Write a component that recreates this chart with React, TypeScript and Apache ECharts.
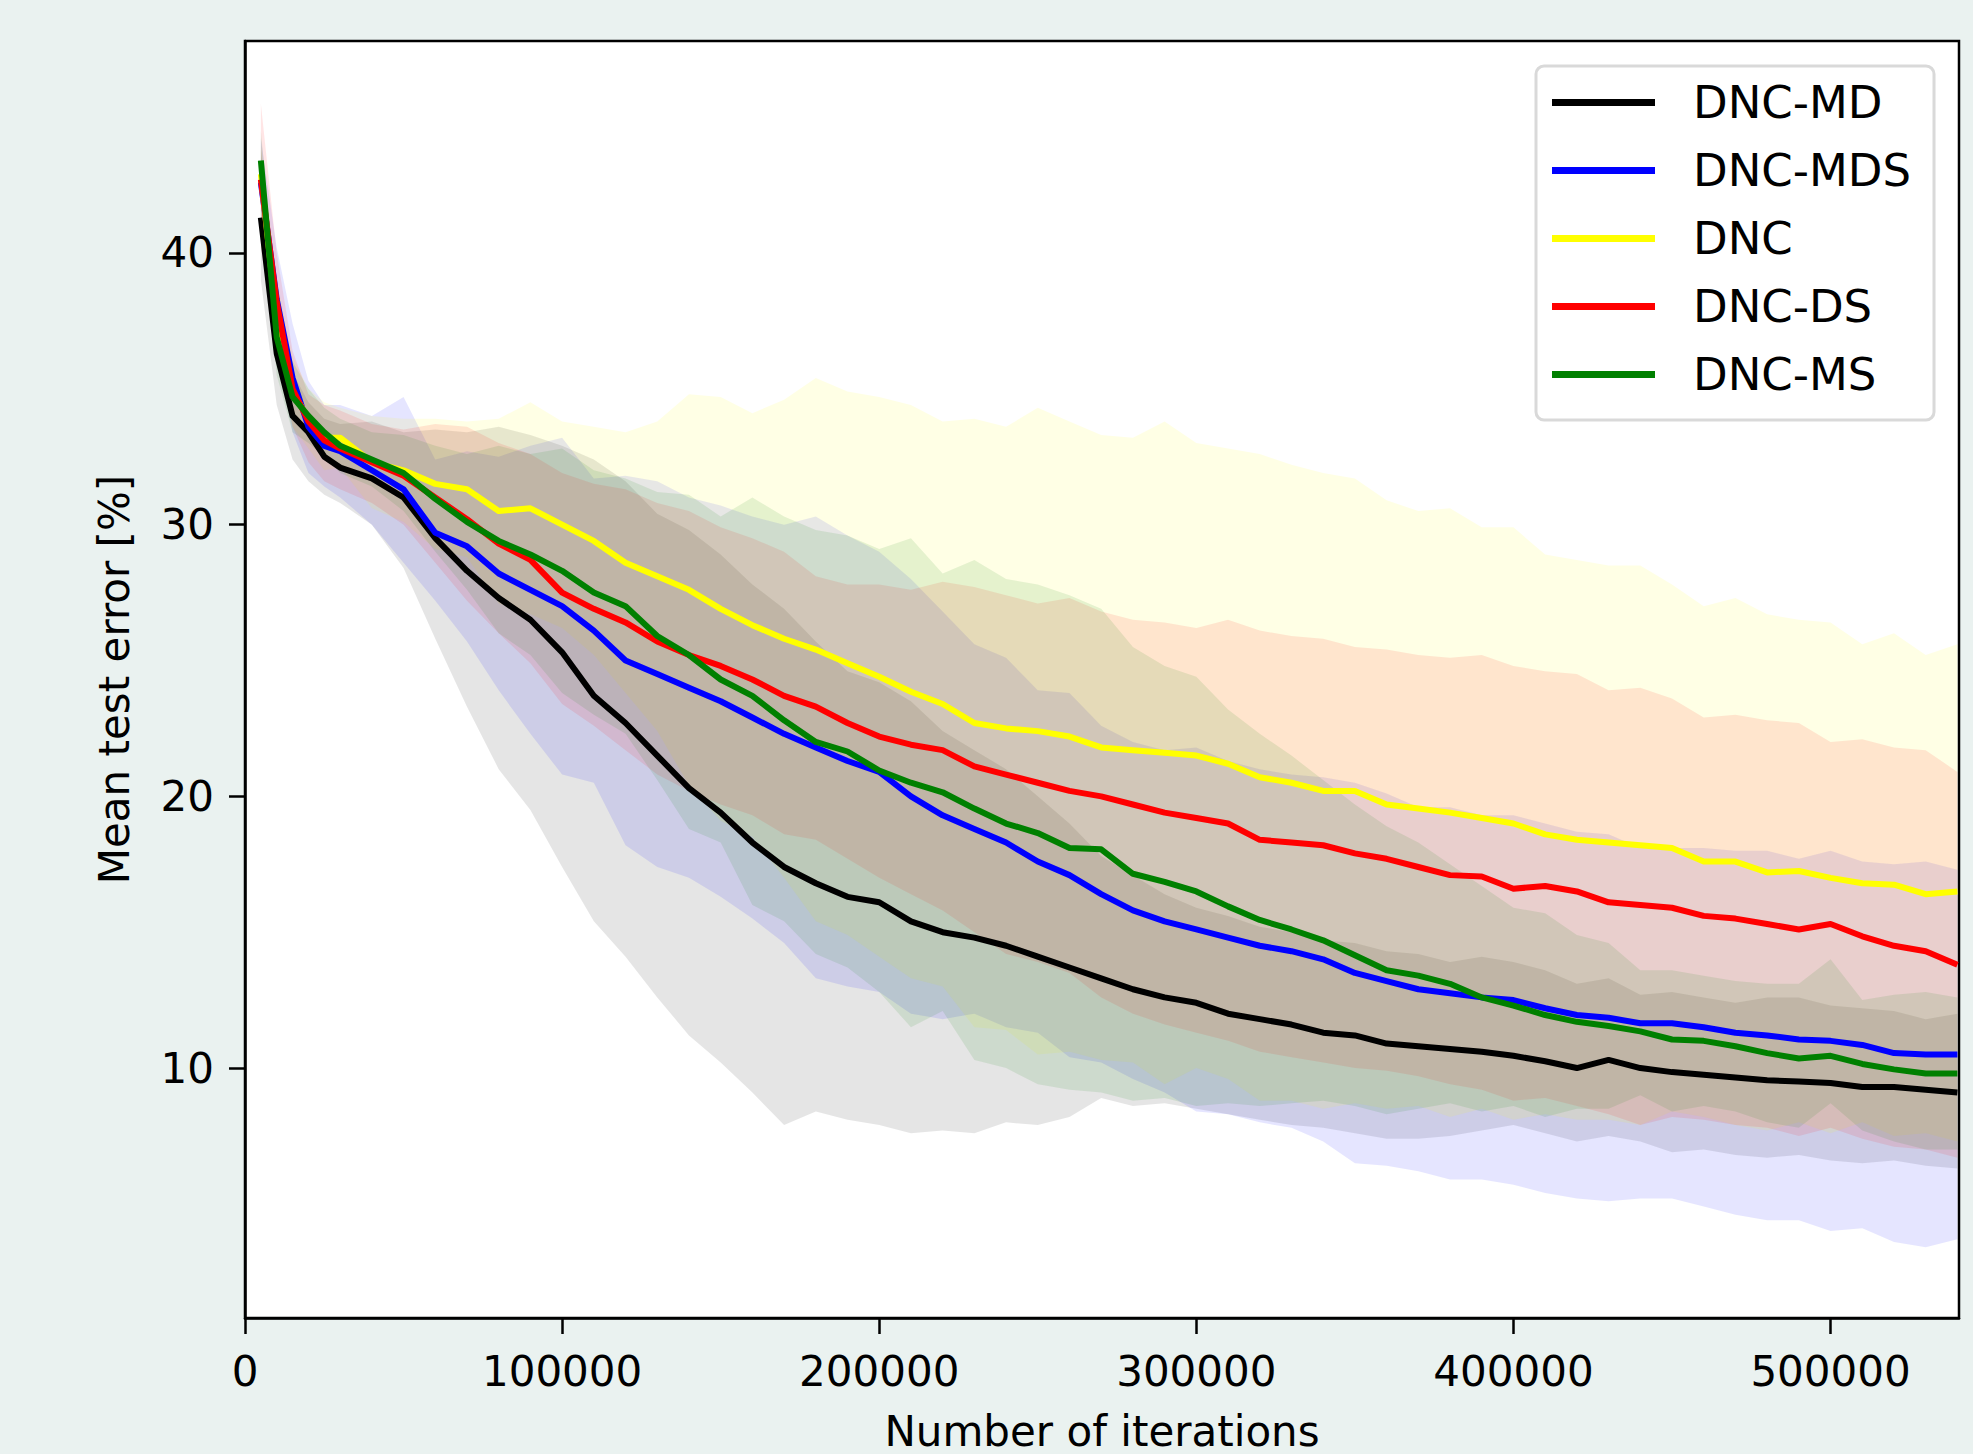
import React, { useEffect, useRef } from "react";
import * as echarts from "echarts";

// Iteration grid (x values)
const iterations = [
  5000, 10000, 15000, 20000, 25000, 30000, 40000, 50000, 60000, 70000,
  80000, 90000, 100000, 110000, 120000, 130000, 140000, 150000, 160000, 170000,
  180000, 190000, 200000, 210000, 220000, 230000, 240000, 250000, 260000, 270000,
  280000, 290000, 300000, 310000, 320000, 330000, 340000, 350000, 360000, 370000,
  380000, 390000, 400000, 410000, 420000, 430000, 440000, 450000, 460000, 470000,
  480000, 490000, 500000, 510000, 520000, 530000, 540000,
];

const xTicks = [0, 100000, 200000, 300000, 400000, 500000];
const yTicks = [10, 20, 30, 40];

// DNC-MD (black)
const mdMean = [
  41.3, 36.3, 34.0, 33.4, 32.5, 32.1, 31.7, 31.0, 29.5, 28.3,
  27.3, 26.5, 25.3, 23.7, 22.7, 21.5, 20.3, 19.4, 18.3, 17.4,
  16.8, 16.3, 16.1, 15.4, 15.0, 14.8, 14.5, 14.1, 13.7, 13.3,
  12.9, 12.6, 12.4, 12.0, 11.8, 11.6, 11.3, 11.2, 10.9, 10.8,
  10.7, 10.6, 10.45, 10.25, 10.0, 10.3, 10.0, 9.85, 9.75, 9.65,
  9.55, 9.5, 9.45, 9.3, 9.3, 9.2, 9.1,
];
const mdUpper = [
  43.8, 38.5, 35.6, 34.5, 33.9, 33.7, 33.8, 33.4, 33.5, 33.4,
  33.6, 33.3, 32.9, 32.4, 31.6, 30.4, 29.8, 28.9, 27.8, 26.9,
  25.7, 24.6, 24.2, 23.5, 22.4, 21.7, 21.0, 20.0, 19.0, 17.8,
  17.1, 16.4, 15.9, 15.6, 15.2, 15.0, 14.7, 14.6, 14.3, 14.2,
  13.9, 14.1, 13.9, 13.6, 13.1, 13.3, 12.7, 12.8, 12.6, 12.4,
  12.6, 12.6, 12.3, 12.2, 12.1, 11.8, 12.0,
];
const mdLower = [
  39.0, 34.4, 32.4, 31.6, 31.1, 30.8, 30.0, 28.4, 25.8, 23.3,
  21.0, 19.5, 17.4, 15.4, 14.1, 12.6, 11.2, 10.2, 9.1, 7.9,
  8.4, 8.1, 7.9, 7.6, 7.7, 7.6, 8.0, 7.9, 8.2, 8.9,
  8.6, 8.7, 8.5, 8.3, 8.1, 7.9, 7.8, 7.6, 7.4, 7.4,
  7.5, 7.7, 7.9, 7.6, 7.3, 7.5, 7.3, 6.9, 7.0, 6.8,
  6.7, 6.8, 6.6, 6.5, 6.6, 6.4, 6.3,
];

// DNC-MDS (blue)
const mdsMean = [
  42.6, 38.3, 35.4, 33.6, 32.9, 32.7, 32.0, 31.3, 29.7, 29.2,
  28.2, 27.6, 27.0, 26.1, 25.0, 24.5, 24.0, 23.5, 22.9, 22.3,
  21.8, 21.3, 20.9, 20.0, 19.3, 18.8, 18.3, 17.6, 17.1, 16.4,
  15.8, 15.4, 15.1, 14.8, 14.5, 14.3, 14.0, 13.5, 13.2, 12.9,
  12.75, 12.6, 12.5, 12.2, 11.95, 11.85, 11.65, 11.65, 11.5, 11.3,
  11.2, 11.05, 11.0, 10.85, 10.55, 10.5, 10.5,
];
const mdsUpper = [
  44.2, 40.2, 37.4, 35.3, 34.4, 34.4, 34.0, 34.7, 32.4, 32.7,
  32.5, 32.9, 33.2, 31.7, 31.8, 31.6, 31.0, 30.7, 30.3, 30.0,
  30.3, 29.6, 29.0, 28.0, 26.8, 25.6, 25.1, 23.9, 23.8, 22.6,
  22.0, 21.7, 21.8, 21.3, 21.0, 20.8, 20.7, 20.5, 20.1, 19.6,
  19.6, 19.3, 19.3, 19.0, 18.7, 18.6, 18.1, 18.1, 18.1, 18.0,
  18.0, 17.7, 18.0, 17.6, 17.5, 17.6, 17.3,
];
const mdsLower = [
  41.0, 36.4, 33.4, 31.9, 31.4, 31.0, 30.0, 28.6, 27.2, 25.7,
  23.9, 22.3, 20.8, 20.5, 18.2, 17.4, 17.0, 16.3, 15.5, 14.6,
  13.3, 13.0, 12.8, 12.0, 11.8, 12.0, 11.5, 11.3, 10.4, 10.2,
  9.6, 9.1, 8.4, 8.3, 8.0, 7.8, 7.3, 6.5, 6.4, 6.2,
  5.9, 5.9, 5.7, 5.4, 5.2, 5.1, 5.2, 5.2, 4.9, 4.6,
  4.4, 4.4, 4.0, 4.1, 3.6, 3.4, 3.7,
];

// DNC (yellow)
const dncMean = [
  42.9, 37.5, 34.9, 33.9, 33.2, 33.2, 32.3, 32.0, 31.5, 31.3,
  30.5, 30.6, 30.0, 29.4, 28.6, 28.1, 27.6, 26.9, 26.3, 25.8,
  25.4, 24.9, 24.4, 23.85, 23.4, 22.7, 22.5, 22.4, 22.2, 21.8,
  21.7, 21.6, 21.5, 21.2, 20.7, 20.5, 20.2, 20.2, 19.7, 19.55,
  19.4, 19.2, 19.0, 18.6, 18.4, 18.3, 18.2, 18.1, 17.6, 17.6,
  17.2, 17.25, 17.0, 16.8, 16.75, 16.4, 16.5,
];
const dncUpper = [
  44.0, 39.0, 36.2, 35.0, 34.5, 34.3, 34.0, 33.9, 33.9, 33.8,
  33.9, 34.5, 33.8, 33.6, 33.4, 33.8, 34.8, 34.7, 34.1, 34.6,
  35.4, 34.9, 34.7, 34.4, 33.8, 33.9, 33.6, 34.3, 33.8, 33.3,
  33.2, 33.8, 33.0, 32.8, 32.6, 32.2, 31.9, 31.7, 30.9, 30.5,
  30.6, 29.9, 29.9, 28.9, 28.7, 28.5, 28.5, 27.8, 27.0, 27.3,
  26.7, 26.5, 26.4, 25.6, 26.0, 25.2, 25.6,
];
const dncLower = [
  41.5, 36.0, 33.6, 32.8, 32.0, 32.1, 30.6, 30.1, 29.1, 28.8,
  27.1, 26.7, 26.2, 25.2, 23.8, 22.4, 20.4, 19.1, 18.5, 17.0,
  15.4, 14.9, 14.1, 13.3, 13.0, 11.5, 11.4, 10.5, 10.6, 10.3,
  10.2, 9.4, 10.0, 9.6, 8.8, 8.8, 8.5, 8.7, 8.5, 8.6,
  8.2, 8.5, 8.1, 8.3, 8.1, 8.1, 7.9, 8.4, 8.2, 7.9,
  7.7, 8.0, 7.6, 8.0, 7.5, 7.6, 7.3,
];

// DNC-DS (red)
const dsMean = [
  42.7, 38.2, 35.0, 33.8, 33.1, 32.8, 32.3, 31.8, 31.0, 30.2,
  29.3, 28.7, 27.5, 26.9, 26.4, 25.7, 25.2, 24.8, 24.3, 23.7,
  23.3, 22.7, 22.2, 21.9, 21.7, 21.1, 20.8, 20.5, 20.2, 20.0,
  19.7, 19.4, 19.2, 19.0, 18.4, 18.3, 18.2, 17.9, 17.7, 17.4,
  17.1, 17.05, 16.6, 16.7, 16.5, 16.1, 16.0, 15.9, 15.6, 15.5,
  15.3, 15.1, 15.3, 14.85, 14.5, 14.3, 13.8,
];
const dsUpper = [
  45.5, 40.0, 36.4, 34.8, 34.4, 34.2, 33.7, 33.5, 33.7, 33.6,
  33.0, 32.6, 31.9, 31.5, 31.3, 30.8, 30.5, 29.9, 29.5, 29.0,
  28.1, 27.8, 27.8, 27.6, 27.9, 27.7, 27.4, 27.1, 27.3, 26.8,
  26.5, 26.4, 26.2, 26.5, 26.1, 25.9, 25.8, 25.5, 25.4, 25.2,
  25.1, 25.2, 24.8, 24.6, 24.5, 23.9, 24.0, 23.6, 22.9, 23.0,
  22.8, 22.7, 22.0, 22.1, 21.8, 21.7, 20.9,
];
const dsLower = [
  40.2, 36.5, 33.6, 32.3, 31.6, 31.3, 30.8, 30.0, 28.6, 27.2,
  26.0, 24.9, 23.4, 22.6, 21.7, 20.8, 20.2, 19.7, 19.3, 18.6,
  18.4, 17.7, 17.0, 16.4, 15.8, 15.0, 14.2, 13.9, 13.5, 12.6,
  12.0, 11.6, 11.3, 11.0, 10.6, 10.4, 10.2, 10.0, 9.9, 9.7,
  9.4, 9.2, 8.8, 8.9, 8.6, 8.3, 7.9, 8.2, 8.1, 7.9,
  7.8, 7.5, 7.8, 7.4, 7.1, 7.0, 6.7,
];

// DNC-MS (green)
const msMean = [
  43.4, 36.9, 34.7, 34.0, 33.4, 32.9, 32.4, 31.9, 30.95, 30.1,
  29.4, 28.9, 28.3, 27.5, 27.0, 25.9, 25.2, 24.3, 23.7, 22.8,
  22.0, 21.65, 20.95, 20.5, 20.15, 19.55, 19.0, 18.65, 18.1, 18.05,
  17.15, 16.85, 16.5, 15.95, 15.45, 15.1, 14.7, 14.15, 13.6, 13.4,
  13.1, 12.6, 12.3, 11.95, 11.7, 11.55, 11.35, 11.05, 11.0, 10.8,
  10.55, 10.35, 10.45, 10.15, 9.95, 9.8, 9.8,
];
const msUpper = [
  44.5, 38.3, 36.0, 35.0, 34.3, 33.9, 33.4, 33.3, 32.9, 32.6,
  32.9, 32.6, 32.8, 32.0, 31.7, 31.2, 31.1, 30.3, 31.0, 30.3,
  29.8, 29.6, 29.1, 29.5, 28.2, 28.7, 28.0, 27.8, 27.4, 26.9,
  25.5, 24.8, 24.4, 23.2, 22.3, 21.5, 20.6, 19.7, 18.9, 18.3,
  17.5, 16.7, 15.9, 15.7, 14.9, 14.6, 13.6, 13.6, 13.4, 13.2,
  13.1, 13.1, 14.0, 12.5, 12.7, 12.8, 12.6,
];
const msLower = [
  42.0, 35.5, 33.4, 33.0, 32.5, 31.9, 31.4, 30.5, 29.0, 27.6,
  26.0, 25.2, 23.8, 23.0, 22.3, 20.6, 18.8, 18.3, 16.0, 15.4,
  14.2, 13.7, 12.8, 11.5, 12.1, 10.3, 10.0, 9.4, 9.2, 9.1,
  8.8, 8.9, 8.6, 8.7, 8.6, 8.7, 8.8, 8.6, 8.3, 8.5,
  8.7, 8.4, 8.6, 8.2, 8.5, 8.5, 9.0, 8.4, 8.6, 8.4,
  8.0, 7.8, 8.7, 7.7, 7.3, 7.0, 7.0,
];

const seriesDefs = [
  { name: "DNC-MD", color: "#000000", band: "rgba(0,0,0,0.1)", mean: mdMean, upper: mdUpper, lower: mdLower },
  { name: "DNC-MDS", color: "#0000ff", band: "rgba(0,0,255,0.1)", mean: mdsMean, upper: mdsUpper, lower: mdsLower },
  { name: "DNC", color: "#ffff00", band: "rgba(255,255,0,0.1)", mean: dncMean, upper: dncUpper, lower: dncLower },
  { name: "DNC-DS", color: "#ff0000", band: "rgba(255,0,0,0.1)", mean: dsMean, upper: dsUpper, lower: dsLower },
  { name: "DNC-MS", color: "#008000", band: "rgba(0,128,0,0.1)", mean: msMean, upper: msUpper, lower: msLower },
];

const FONT = "DejaVu Sans";

export default function App() {
  const ref = useRef<HTMLDivElement | null>(null);

  useEffect(() => {
    if (!ref.current) return;
    const chart = echarts.init(ref.current, null, { renderer: "svg" });

    const bandSeries = seriesDefs.map((d) => ({
      type: "custom",
      name: d.name + " band",
      coordinateSystem: "cartesian2d",
      silent: true,
      z: 1,
      data: iterations.map((x, i) => [x, d.lower[i], d.upper[i]]),
      encode: { x: 0, y: [1, 2] },
      renderItem: (params: any, api: any) => {
        if (params.dataIndex !== 0) return null;
        const pts: number[][] = [];
        for (let i = 0; i < iterations.length; i++) pts.push(api.coord([iterations[i], d.upper[i]]));
        for (let i = iterations.length - 1; i >= 0; i--) pts.push(api.coord([iterations[i], d.lower[i]]));
        return { type: "polygon", shape: { points: pts }, style: { fill: d.band } };
      },
    }));

    const lineSeries = seriesDefs.map((d) => ({
      type: "line",
      name: d.name,
      color: d.color,
      silent: true,
      z: 3,
      symbol: "none",
      showSymbol: false,
      data: iterations.map((x, i) => [x, d.mean[i]]),
      lineStyle: { color: d.color, width: 6, join: "round", cap: "butt" },
    }));

    const axisTextStyle = { fontSize: 42, fontFamily: FONT, color: "#000" };

    chart.setOption({
      animation: false,
      backgroundColor: "#eaf2f0",
      textStyle: { fontFamily: FONT },
      grid: {
        left: 245,
        top: 41,
        width: 1714,
        height: 1277,
        show: true,
        backgroundColor: "#ffffff",
        borderColor: "#000",
        borderWidth: 2.5,
        containLabel: false,
        outerBoundsMode: "none",
      },
      legend: {
        data: seriesDefs.map((d) => d.name),
        orient: "vertical",
        left: 1536,
        top: 66,
        icon: "rect",
        itemWidth: 103,
        itemHeight: 7,
        itemGap: 23,
        padding: [14, 23, 23, 16],
        backgroundColor: "#ffffff",
        borderColor: "#d9d9d9",
        borderWidth: 3,
        borderRadius: 8,
        selectedMode: false,
        textStyle: { fontSize: 45, fontFamily: FONT, color: "#000", lineHeight: 45, padding: [0, 0, 0, 33] },
      },
      xAxis: {
        type: "value",
        min: 0,
        max: 540500,
        name: "Number of iterations",
        nameLocation: "middle",
        nameGap: 92,
        nameTextStyle: axisTextStyle,
        axisLine: { show: true, onZero: false, lineStyle: { color: "#000", width: 2.5 } },
        axisTick: { show: true, length: 16, lineStyle: { color: "#000", width: 2.5 }, customValues: xTicks },
        axisLabel: { ...axisTextStyle, margin: 32, customValues: xTicks, formatter: (v: number) => String(v) },
        splitLine: { show: false },
      },
      yAxis: {
        type: "value",
        min: 0.8,
        max: 47.8,
        name: "Mean test error [%]",
        nameLocation: "middle",
        nameGap: 110,
        nameRotate: 90,
        nameTextStyle: axisTextStyle,
        axisLine: { show: true, onZero: false, lineStyle: { color: "#000", width: 2.5 } },
        axisTick: { show: true, length: 16, lineStyle: { color: "#000", width: 2.5 }, customValues: yTicks },
        axisLabel: { ...axisTextStyle, margin: 31, customValues: yTicks, formatter: (v: number) => String(v) },
        splitLine: { show: false },
      },
      series: [...bandSeries, ...lineSeries],
    });

    return () => {
      chart.dispose();
    };
  }, []);

  return (
    <div
      ref={ref}
      style={{ position: "fixed", left: 0, top: 0, width: 1973, height: 1454, background: "#eaf2f0" }}
    />
  );
}
